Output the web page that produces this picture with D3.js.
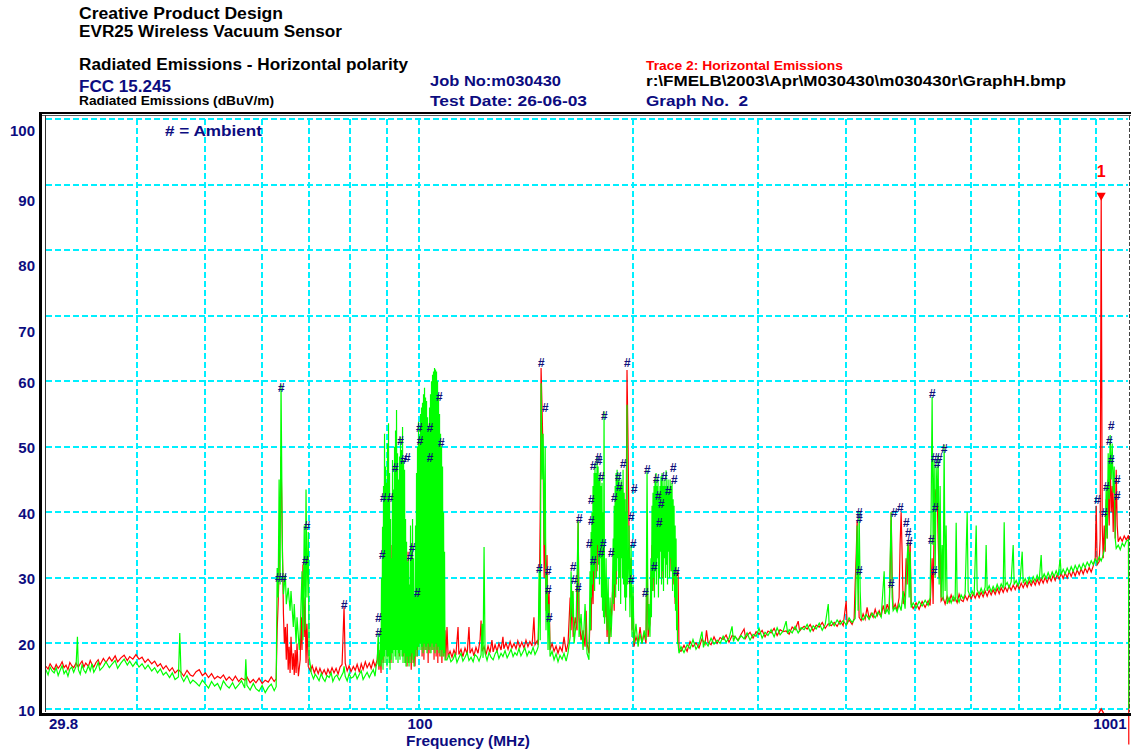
<!DOCTYPE html>
<html>
<head>
<meta charset="utf-8">
<script src="https://cdn.jsdelivr.net/npm/d3@7"></script>
<style>
body { margin: 0; background: #fff; }
svg text { font-family: "Liberation Sans", Arial, sans-serif; font-weight: bold; white-space: pre; }
</style>
</head>
<body>
<svg width="1131" height="754"></svg>
<script>
// levels in dBuV/m, frequencies in MHz
var yTicks = [10, 20, 30, 40, 50, 60, 70, 80, 90, 100];
var xGridMHz = [40, 50, 60, 70, 80, 90, 100, 200, 300, 400, 500, 600, 700, 800, 900];
var xTickLabels = [[29.8, "29.8"], [100, "100"], [1000, "1001"]];

// trace 1 (green)
var greenTrace = [
 [29.8,16.0],[30.0,15.2],[30.2,16.4],[30.4,15.8],[30.6,15.5],[30.8,16.3],[31.0,15.1],[31.2,15.9],[31.4,16.6],[31.6,15.4],
 [31.8,15.9],[32.0,15.0],[32.2,16.1],[32.4,16.4],[32.6,15.6],[32.85,16.5],[33.0,21.0],[33.1,16.0],[33.3,15.3],[33.5,16.7],
 [33.7,15.9],[33.9,15.5],[34.2,16.6],[34.4,15.8],[34.6,16.9],[34.8,15.6],[35.05,16.2],[35.3,17.1],[35.5,15.9],[35.9,16.5],
 [36.2,17.2],[36.6,16.3],[36.9,16.8],[37.3,17.4],[37.6,16.2],[38.0,17.0],[38.4,17.6],[38.8,16.7],[39.1,17.3],[39.5,16.5],
 [39.9,17.2],[40.3,16.4],[40.7,16.9],[41.1,16.1],[41.5,16.7],[42.0,15.8],[42.4,16.3],[42.8,15.5],[43.2,16.1],[43.6,15.2],
 [44.0,15.6],[44.5,14.8],[44.9,15.5],[45.3,14.5],[45.8,14.9],[46.0,21.6],[46.2,15.0],[46.6,14.2],[47.1,15.1],[47.6,13.9],
 [48.0,14.4],[48.5,14.0],[49.0,13.5],[49.5,14.4],[50.0,13.8],[50.5,13.2],[51.0,14.2],[51.5,13.5],[52.0,13.9],[52.5,13.0],
 [53.0,14.3],[53.5,13.6],[54.0,13.2],[54.6,14.0],[55.1,13.1],[55.7,13.7],[56.2,14.3],[56.8,13.2],[57.0,17.6],[57.2,13.6],
 [57.8,12.9],[58.4,13.9],[58.9,13.1],[59.5,12.7],[60.1,13.6],[60.7,12.5],[61.3,13.3],[61.9,13.8],[62.5,12.8],[62.9,13.4],
 [63.1,31.5],[63.3,27.0],[63.5,45.0],[63.7,29.0],[63.9,59.5],[64.2,33.0],[64.4,27.5],[64.8,30.5],[65.0,26.0],[65.4,28.5],
 [65.8,25.0],[66.0,28.0],[66.5,22.5],[66.7,26.0],[67.1,20.0],[67.3,24.0],[67.8,19.0],[68.0,22.0],[68.4,31.0],[68.6,20.5],
 [68.9,38.0],[69.1,22.0],[69.3,43.5],[69.5,27.0],[69.8,37.0],[70.0,18.0],[70.5,15.5],[71.0,14.6],[71.4,15.3],[71.8,14.9],
 [72.3,14.3],[72.8,15.4],[73.2,14.7],[73.7,14.2],[74.2,15.1],[74.7,14.8],[75.2,15.5],[75.6,14.2],[76.1,14.9],[76.6,15.2],
 [77.2,14.4],[77.7,15.0],[78.2,15.6],[78.4,16.5],[78.7,15.0],[79.2,14.3],[79.7,15.4],[80.2,14.7],[80.8,14.9],[81.3,15.5],
 [81.8,14.6],[82.4,15.3],[82.9,15.8],[83.4,14.5],[84.0,15.1],[84.5,15.6],[85.1,14.8],[85.6,15.4],[86.2,16.0],[86.7,15.0],
 [87.0,16.5],[87.3,17.0],[87.6,21.6],[87.8,16.5],
 // FM broadcast band
 [88.11,17.0],[88.25,22.0],[88.40,16.5],[88.54,30.0],[88.68,17.5],[88.83,37.8],[88.97,16.0],[89.12,44.0],[89.26,18.0],[89.41,52.0],
 [89.55,17.0],[89.70,47.0],[89.84,19.0],[89.99,44.5],[90.13,16.5],[90.28,50.5],[90.43,18.0],[90.57,53.6],[90.72,17.0],[90.87,46.0],
 [91.02,16.0],[91.16,39.0],[91.31,17.5],[91.46,33.0],[91.61,18.5],[91.76,48.0],[91.91,17.0],[92.06,43.5],[92.21,19.0],[92.36,50.0],
 [92.51,18.0],[92.66,52.5],[92.81,17.5],[92.96,55.6],[93.11,19.0],[93.26,49.0],[93.41,17.0],[93.56,45.0],[93.72,18.5],[93.87,48.5],
 [94.02,17.5],[94.17,51.5],[94.33,19.0],[94.48,49.5],[94.63,18.0],[94.79,53.0],[94.94,17.0],[95.10,48.0],[95.25,18.5],[95.41,46.5],
 [95.56,17.0],[95.72,39.0],[95.87,16.5],[96.03,35.5],[96.19,18.0],[96.34,32.5],[96.50,17.0],[96.66,33.0],[96.81,16.5],[96.97,29.0],
 [97.12,18.0],[97.28,38.0],[97.44,17.0],[97.60,35.0],[97.76,18.5],[97.92,39.0],[98.07,17.5],[98.23,33.0],[98.39,16.5],[98.55,27.5],
 [98.71,18.0],[98.87,38.0],[99.03,19.0],[99.19,46.0],[99.35,18.0],[99.51,50.0],[99.68,19.5],[99.84,53.8],[100.00,19.0],[100.16,51.5],
 [100.32,20.0],[100.49,55.0],[100.65,19.0],[100.81,56.0],[100.98,19.5],[101.14,56.7],[101.31,18.5],[101.47,58.0],[101.64,20.0],[101.80,59.0],
 [101.97,19.0],[102.13,57.5],[102.30,19.5],[102.47,57.0],[102.63,18.5],[102.80,54.5],[102.97,20.0],[103.13,53.0],[103.30,19.0],[103.47,56.0],
 [103.63,19.5],[103.80,58.0],[103.97,18.5],[104.14,60.0],[104.31,20.0],[104.48,61.0],[104.65,19.0],[104.82,61.5],[104.99,19.5],[105.16,62.0],
 [105.33,18.5],[105.50,61.8],[105.67,20.0],[105.84,61.5],[106.02,19.0],[106.19,60.0],[106.36,19.5],[106.53,58.0],[106.71,18.5],[106.88,55.0],
 [107.05,19.0],[107.23,52.0],[107.40,18.0],[107.58,50.0],[107.75,19.0],[107.93,47.0],[108.10,18.0],[108.28,40.0],[108.45,18.5],[108.63,34.0],
 [108.80,17.5],
 [109.5,17.5],[110.2,18.3],[110.9,17.2],[111.7,17.6],[112.4,18.4],[113.1,17.1],[113.8,17.8],[114.6,18.5],[115.3,17.3],[116.1,17.9],
 [116.9,18.6],[117.6,17.4],[118.4,17.9],[119.2,17.2],[119.9,18.3],[120.7,18.0],[121.5,17.3],[122.3,18.2],[122.7,23.0],[123.1,17.8],
 [123.5,34.7],[123.9,18.5],[124.7,17.4],[125.5,18.6],[126.3,17.9],[127.2,17.5],[128.0,18.4],[128.8,18.9],[129.6,17.7],[130.5,18.5],
 [131.3,18.0],[132.2,18.9],[133.1,17.8],[133.9,18.4],[134.8,19.1],[135.7,18.0],[136.5,18.6],[137.4,18.2],[138.3,19.2],[139.2,18.1],
 [140.1,18.7],[141.0,19.3],[142.0,18.1],[142.9,18.8],[143.8,18.4],[144.8,19.4],[145.7,18.3],[146.7,19.0],
 [147.2,19.5],[147.7,31.5],[148.2,20.5],[148.6,59.7],[149.1,45.0],[149.6,52.0],[150.1,35.0],[150.6,50.0],[151.0,22.0],[151.5,30.5],
 [152.0,19.0],[152.5,26.0],[153.0,18.0],[154.0,18.8],[155.0,17.5],[156.0,18.4],[157.0,17.2],[158.0,18.2],[159.1,17.6],[160.1,18.5],
 [161.2,17.3],[162.2,18.6],[163.3,21.0],[163.8,31.0],[164.4,24.0],[164.9,28.0],[165.4,20.0],[166.5,23.0],[167.6,38.8],[168.1,21.0],
 [169.2,24.5],[170.3,19.0],[171.4,26.0],[172.5,18.5],[173.6,17.5],
 [174.2,31.0],[174.5,22.0],[174.8,37.0],[175.0,27.0],[175.3,40.0],[175.6,29.0],[175.9,44.0],[176.2,31.0],[176.5,46.0],[176.8,28.0],
 [177.0,47.5],[177.3,33.0],[177.6,46.0],[177.9,30.0],[178.2,48.5],[178.5,35.0],[178.8,47.0],[179.1,32.0],[179.4,45.0],[179.6,29.0],
 [179.9,46.0],[180.2,33.0],[180.5,44.0],[180.8,27.0],[181.1,44.5],[181.4,25.0],[181.7,40.0],[182.0,24.0],[182.3,55.4],[182.6,23.0],
 [182.9,25.0],[183.5,33.0],[184.1,22.0],[184.7,30.0],[185.3,20.0],[185.9,27.0],[186.5,21.0],[187.1,25.0],
 [187.8,36.0],[188.1,26.0],[188.4,41.0],[188.7,29.0],[189.0,44.0],[189.3,27.0],[189.6,46.0],[189.9,31.0],[190.2,46.5],[190.5,33.0],
 [190.8,45.0],[191.1,28.0],[191.4,46.0],[191.7,30.0],[192.1,44.0],[192.4,26.0],[192.7,45.0],[193.0,33.0],[193.3,44.0],[193.6,30.0],
 [193.9,46.5],[194.2,29.0],[194.6,43.0],[194.9,27.0],[195.2,42.0],[195.5,25.0],[195.8,40.0],[196.1,27.0],[196.4,56.4],[196.7,29.0],
 [197.1,30.0],[197.7,38.0],[198.3,24.0],[199.0,35.0],[199.6,21.0],[200.3,29.0],[200.9,20.0],
 [202.2,23.0],[203.6,19.5],[204.9,21.5],[206.2,20.0],[207.6,22.0],[208.9,20.5],[209.6,46.4],[210.3,22.0],[210.9,26.0],[211.6,21.0],
 [212.3,33.0],[212.6,24.0],[213.0,41.0],[213.3,28.0],[213.7,43.0],[214.0,30.0],[214.4,44.0],[214.7,27.0],[215.1,45.0],[215.4,31.0],
 [215.8,46.0],[216.1,29.0],[216.5,44.0],[216.8,33.0],[217.2,45.0],[217.5,27.0],[217.9,43.0],[218.2,30.0],[218.6,44.0],[218.9,34.0],
 [219.3,45.5],[219.7,29.0],[220.1,46.0],[220.4,31.0],[220.8,44.0],[221.1,28.0],[221.5,45.0],[221.8,33.0],[222.2,44.0],[222.6,30.0],
 [223.0,46.4],[223.3,32.0],[223.7,44.0],[224.0,29.0],[224.4,45.0],[224.8,34.0],[225.1,43.0],[225.5,30.0],[225.9,45.0],[226.2,33.0],
 [226.6,44.0],[226.9,31.0],[227.3,44.5],[227.7,28.0],[228.1,42.0],[228.4,30.0],[228.8,41.0],[229.2,27.0],[229.6,38.0],[229.9,25.0],
 [230.3,36.0],[230.7,22.0],[231.0,30.0],[231.4,20.0],[231.8,20.0],[232.5,18.5],[234.0,19.5],
 [236.3,18.6],[238.7,19.8],[241.0,19.2],[243.3,20.6],[245.7,19.1],[248.1,19.9],[250.5,21.8],[251.7,19.4],[253.0,20.3],[255.5,19.6],
 [258.0,20.8],[260.5,19.9],[263.1,20.5],[265.7,20.0],[268.3,21.1],[270.9,20.2],[273.5,20.8],[276.2,22.6],[277.5,20.3],[278.9,21.1],
 [281.6,20.4],[284.4,21.2],[287.2,20.7],[290.0,21.6],[292.8,20.5],[295.7,21.4],[298.6,21.1],[301.5,22.3],[304.5,20.8],[307.4,21.7],
 [310.4,21.2],[313.5,22.1],[316.6,21.0],[319.7,22.4],[322.8,21.3],[326.0,21.9],[329.2,23.4],[330.8,21.5],[332.4,22.1],[335.7,21.6],
 [338.9,22.6],[342.3,21.6],[345.6,22.4],[349.0,22.1],[352.4,22.9],[355.9,21.8],[359.4,22.7],[362.9,22.2],[366.5,23.1],[370.1,22.0],
 [373.7,22.9],[377.4,26.0],[378.6,22.6],
 [381.1,23.4],[384.8,22.7],[388.4,23.6],[392.2,22.9],[396.1,23.5],[400.0,22.8],[403.8,23.9],[407.8,23.2],[411.8,23.8],[413.1,30.0],
 [414.5,38.0],[415.8,25.0],[417.2,40.0],[418.6,28.0],[419.9,24.0],[422.6,23.6],[426.8,24.4],[431.0,23.7],[435.2,24.6],[439.5,23.9],
 [443.8,24.8],[448.1,24.0],[452.5,31.0],[454.0,24.5],[456.9,25.2],[459.9,24.4],[461.4,33.0],[462.9,40.0],[464.4,27.0],[465.9,25.0],
 [469.0,25.5],[471.9,24.8],[475.0,26.0],[478.1,25.0],[481.2,28.0],[484.3,25.3],[487.5,33.0],[489.1,35.5],[490.7,27.0],[492.3,34.0],
 [493.9,25.5],[497.2,26.2],[501.9,25.4],[506.8,26.4],[511.8,25.7],[516.8,26.6],[521.9,25.8],[525.3,27.0],[527.0,40.0],[528.7,57.6],
 [530.4,35.0],[532.1,48.0],[533.9,30.0],[535.6,47.0],[537.4,41.0],[539.1,48.8],[540.9,29.0],[542.6,44.0],[544.4,27.0],[546.2,35.0],
 [547.9,26.5],[549.7,50.3],[551.5,28.0],[553.3,38.0],[555.1,26.0],[558.7,27.0],[562.4,26.2],[566.0,27.2],[569.7,26.4],[571.6,38.4],
 [573.4,27.0],[577.1,26.3],[580.9,27.4],[584.7,26.8],[588.5,27.6],[592.4,40.0],[594.3,28.0],[598.2,27.2],[602.1,28.0],[606.0,27.3],
 [610.0,38.0],[611.9,28.2],[615.9,27.5],[619.9,28.4],[623.9,27.6],[628.0,28.6],[630.0,35.0],[632.1,28.0],[636.2,28.8],[640.4,27.9],
 [644.5,28.7],[648.8,28.0],[653.0,29.0],[657.3,28.2],[661.5,29.1],[665.9,28.4],[668.0,38.5],[670.2,28.8],[674.5,29.3],[678.9,28.5],
 [683.3,29.4],[687.8,35.0],[690.0,29.0],[694.5,29.6],[699.1,28.8],[703.6,29.7],[708.2,34.0],[710.5,29.2],[715.2,29.9],[719.8,29.1],
 [724.5,30.1],[729.2,29.3],[734.0,30.2],[738.8,29.5],[743.5,30.4],[748.4,29.6],[753.2,33.5],[755.7,29.8],[760.6,30.6],[765.5,29.9],
 [770.5,30.8],[775.5,30.0],[780.6,30.9],[785.6,30.2],[790.8,31.1],[796.0,30.3],[801.1,33.0],[803.7,30.5],[809.0,31.3],[814.3,30.6],
 [819.6,31.5],[824.9,30.8],[830.3,31.7],[835.7,31.0],[841.1,31.9],[846.6,31.2],[852.1,32.0],[857.7,31.3],[863.3,32.2],[868.9,31.6],
 [874.6,32.4],[880.3,31.8],[886.0,32.6],[891.8,32.0],[897.6,32.9],[903.4,32.3],[909.3,33.2],[915.2,32.6],[921.2,33.5],[927.2,35.0],
 [930.2,44.0],[933.2,36.0],[936.2,49.0],[939.3,42.0],[942.3,51.8],[945.4,45.0],[948.5,50.5],[951.6,43.0],[954.7,47.0],[957.8,36.0],
 [960.9,34.5],[967.2,35.0],[973.5,34.3],[979.9,35.3],[986.2,34.8],[992.7,35.6],[1000,35.8],[1001,10.0]
];

// trace 2 (red) - horizontal emissions
var redTrace = [
 [29.8,16.5],[30.0,16.1],[30.2,16.9],[30.4,16.4],[30.6,16.0],[30.8,16.8],[31.0,16.2],[31.2,16.6],[31.4,17.2],[31.6,16.3],
 [31.8,16.7],[32.0,16.0],[32.2,17.1],[32.4,16.6],[32.6,16.3],[32.85,17.0],[33.1,16.4],[33.3,16.9],[33.5,17.3],[33.7,16.4],
 [33.9,17.0],[34.2,16.5],[34.4,17.4],[34.6,16.8],[34.8,16.4],[35.05,17.1],[35.3,17.5],[35.5,16.7],[35.9,17.7],[36.2,17.1],
 [36.6,17.9],[36.9,17.3],[37.3,18.1],[37.6,17.2],[38.0,17.8],[38.4,18.2],[38.8,17.4],[39.1,18.0],[39.5,17.6],[39.9,18.3],
 [40.3,17.6],[40.7,17.9],[41.1,17.1],[41.5,17.6],[42.0,16.9],[42.4,17.3],[42.8,16.5],[43.2,16.9],[43.6,16.1],[44.0,16.6],
 [44.5,15.8],[44.9,16.3],[45.3,15.5],[45.8,16.0],[46.2,15.6],[46.6,15.0],[47.1,15.9],[47.6,15.2],[48.0,15.0],[48.5,15.7],
 [49.0,16.0],[49.5,15.1],[50.0,15.5],[50.5,14.8],[51.0,15.4],[51.5,14.6],[52.0,15.0],[52.5,14.7],[53.0,15.2],[53.5,14.4],
 [54.0,14.9],[54.6,14.3],[55.1,15.0],[55.7,14.2],[56.2,14.7],[56.8,14.4],[57.2,14.9],[57.8,14.0],[58.4,14.5],[58.9,14.0],
 [59.5,14.7],[60.1,13.9],[60.7,14.4],[61.3,14.1],[61.9,14.9],[62.5,14.2],[62.9,14.6],[63.1,22.0],[63.3,26.0],[63.5,31.0],
 [63.7,40.0],[63.9,48.5],[64.2,34.0],[64.4,24.5],[64.6,20.0],[64.8,22.5],[65.0,17.5],[65.2,23.0],[65.4,16.0],[65.6,19.5],
 [65.8,15.5],[66.0,21.0],[66.3,16.0],[66.5,18.5],[66.7,15.2],[66.9,19.0],[67.1,15.5],[67.3,20.0],[67.6,15.0],[68.0,17.5],
 [68.2,24.0],[68.4,19.0],[68.6,32.0],[68.9,21.0],[69.1,27.0],[69.3,17.0],[69.5,23.0],[69.8,16.5],[70.3,15.8],[70.7,16.6],
 [71.2,15.5],[71.6,16.3],[72.1,15.4],[72.5,16.2],[73.0,15.3],[73.5,16.0],[74.0,15.2],[74.4,16.1],[74.9,15.4],[75.4,16.3],
 [75.9,15.5],[76.4,16.2],[76.9,15.3],[77.4,16.4],[77.9,16.8],[78.2,22.0],[78.4,25.6],[78.7,17.0],[79.2,15.8],[79.7,16.6],
 [80.2,15.7],[80.8,16.5],[81.3,15.9],[81.8,16.8],[82.4,15.6],[82.9,16.9],[83.4,16.0],[84.0,17.2],[84.5,16.3],[85.1,17.0],
 [85.6,16.2],[86.2,17.4],[86.7,16.5],[87.3,17.5],[87.6,20.0],[87.8,16.0],[88.1,19.0],[88.4,15.5],[88.7,24.0],[89.0,17.0],
 [89.3,30.0],[89.6,19.0],[89.9,36.0],[90.2,18.0],[90.5,38.0],[90.8,21.0],[91.0,30.0],[91.3,17.0],[91.6,35.0],[91.9,20.0],
 [92.2,33.0],[92.5,22.0],[92.8,40.0],[93.1,19.0],[93.4,35.0],[93.8,18.0],[94.1,38.0],[94.4,21.0],[94.7,36.0],[95.0,18.0],
 [95.3,30.0],[95.6,17.0],[95.9,24.0],[96.2,16.5],[96.5,34.0],[96.8,17.0],[97.1,27.0],[97.5,16.0],[97.8,25.0],[98.1,17.0],
 [98.4,20.0],[98.7,16.5],[99.1,29.0],[99.4,18.0],[100.0,40.0],[100.3,20.0],[100.7,51.5],[101.0,18.0],[101.3,42.0],[101.6,17.5],
 [102.0,45.0],[102.3,19.0],[102.6,40.0],[103.0,17.0],[103.3,44.0],[103.6,18.5],[104.0,42.0],[104.3,19.0],[104.6,46.0],[105.0,17.5],
 [105.3,44.0],[105.7,18.0],[106.0,41.0],[106.3,17.0],[106.7,39.0],[107.0,18.0],[107.4,35.0],[107.7,17.0],[108.1,28.0],[108.4,18.0],
 [108.8,22.0],[109.1,17.5],[109.5,22.5],[109.9,18.0],[110.6,18.8],[111.3,17.9],[112.0,19.0],[112.7,18.2],[113.5,22.5],[113.8,18.3],
 [114.6,19.1],[115.3,18.0],[116.1,19.3],[116.9,18.4],[117.6,22.5],[118.0,18.5],[118.8,19.2],[119.5,18.1],[120.3,19.4],[121.1,18.5],
 [121.9,20.5],[122.3,23.5],[122.7,18.8],[123.5,19.5],[124.3,18.3],[125.1,19.6],[125.9,18.6],[126.7,20.5],[127.2,18.7],[128.0,19.8],
 [128.8,18.8],[129.6,20.0],[130.5,19.0],[131.3,21.0],[131.7,19.2],[132.6,20.1],[133.5,19.1],[134.4,20.3],[135.2,19.3],[136.1,20.0],
 [137.0,19.2],[137.8,20.4],[138.7,19.4],[139.6,20.2],[140.6,19.3],[141.5,20.5],[142.4,19.5],[143.3,20.3],[144.3,19.6],[145.2,24.0],
 [145.7,19.8],[146.7,20.4],[147.2,19.8],[147.7,26.0],[148.2,40.0],[148.6,62.0],[149.1,55.6],[149.6,48.0],[150.1,30.0],[150.6,40.0],
 [151.0,25.0],[151.5,33.5],[152.0,23.0],[152.5,28.0],[153.0,19.0],[154.0,20.0],[155.0,18.8],[156.0,19.6],[157.0,18.5],[158.0,19.5],
 [159.1,18.8],[160.1,21.0],[161.2,18.7],[162.2,20.0],[163.3,27.0],[163.8,22.0],[164.4,28.0],[164.9,21.0],[166.0,24.0],[167.0,22.0],
 [167.6,38.5],[168.1,24.0],[169.2,20.5],[170.3,22.0],[171.4,19.5],[172.0,25.0],[172.5,20.0],[173.6,18.5],[174.2,24.0],[174.8,22.0],
 [175.3,32.0],[175.9,26.0],[176.5,38.0],[177.0,30.0],[177.6,42.0],[178.2,31.0],[178.8,40.0],[179.4,36.0],[179.9,41.0],[180.5,33.0],
 [181.1,39.0],[181.7,26.0],[182.3,30.0],[182.9,24.0],[183.5,28.0],[184.1,21.0],[184.7,26.0],[185.3,20.0],[186.5,23.0],[187.8,30.0],
 [188.4,25.0],[189.0,38.0],[189.6,29.0],[190.2,42.0],[190.8,35.0],[191.4,44.0],[192.1,37.0],[192.7,43.0],[193.3,40.0],[193.9,42.0],
 [194.6,33.0],[195.2,40.0],[195.8,35.0],[196.4,61.7],[197.1,50.0],[197.7,36.0],[198.3,27.0],[199.0,33.0],[199.6,22.0],[200.3,27.0],
 [200.9,19.5],[202.2,21.0],[203.6,20.0],[204.9,22.5],[206.2,20.0],[207.6,21.5],[208.9,20.0],[209.6,34.0],[210.3,21.0],[211.6,23.0],
 [212.3,30.0],[213.0,35.0],[213.7,28.0],[214.4,38.0],[215.1,31.0],[215.8,40.0],[216.5,34.0],[217.2,37.0],[217.9,30.0],[218.6,41.0],
 [219.3,35.0],[220.1,38.0],[220.8,30.0],[221.5,42.0],[222.2,36.0],[223.0,39.0],[223.7,33.0],[224.4,40.0],[225.1,35.0],[225.9,37.0],
 [226.6,31.0],[227.3,36.0],[228.1,29.0],[228.8,34.0],[229.6,26.0],[230.3,31.0],[231.0,30.5],[231.8,31.0],[232.5,19.0],[234.0,18.8],
 [236.3,19.7],[238.7,18.8],[241.0,20.3],[243.3,19.5],[245.7,20.1],[248.1,19.3],[250.5,20.7],[253.0,19.9],[254.2,22.0],[255.5,20.2],
 [258.0,19.8],[260.5,21.0],[263.1,20.0],[265.7,20.9],[268.3,20.6],[270.9,21.3],[273.5,20.2],[276.2,21.2],[278.9,21.0],[281.6,20.5],
 [284.4,21.4],[287.2,22.2],[288.6,20.8],[290.0,21.2],[292.8,21.7],[295.7,20.8],[298.6,21.8],[301.5,21.4],[304.5,22.0],[307.4,21.0],
 [310.4,21.9],[313.5,21.6],[316.6,22.3],[319.7,21.2],[322.8,22.1],[326.0,21.8],[329.2,21.9],[332.4,21.4],[335.7,22.5],[338.9,22.1],
 [342.3,23.4],[343.9,21.9],[345.6,22.2],[349.0,22.6],[352.4,22.2],[355.9,22.9],[359.4,21.9],[362.9,22.8],[366.5,22.5],[370.1,23.2],
 [373.7,22.3],[377.4,23.0],[381.1,22.7],
 [384.8,23.2],[388.4,22.6],[392.2,23.5],[396.1,22.7],[400.0,26.5],[401.2,23.0],[403.8,23.6],[407.8,22.9],[410.5,23.8],[411.8,29.0],
 [413.1,33.0],[414.5,38.8],[415.8,30.0],[417.2,24.0],[419.9,23.5],[422.6,24.5],[425.4,23.7],[428.1,25.5],[431.0,23.8],[433.8,24.6],
 [436.6,24.0],[439.5,25.2],[442.3,24.2],[445.2,25.0],[448.1,24.1],[451.0,25.8],[454.0,24.5],[456.9,26.0],[459.9,25.0],[461.4,31.0],
 [462.9,40.0],[464.4,30.0],[465.9,25.2],[469.0,26.0],[471.9,25.0],[475.0,27.0],[476.5,35.0],[478.1,40.0],[479.6,34.0],[481.2,26.0],
 [484.3,28.0],[485.9,33.0],[487.5,29.0],[489.1,35.0],[490.7,31.0],[492.3,35.5],[493.9,26.0],[497.2,25.3],[501.9,26.2],[506.8,25.2],
 [511.8,26.4],[516.8,25.5],[521.9,26.5],[525.3,25.8],[528.7,33.0],[530.4,26.0],[532.1,38.0],[533.9,43.5],[535.6,41.0],[537.4,43.0],
 [539.1,36.0],[540.9,30.0],[542.6,38.0],[544.4,26.5],[547.9,27.0],[551.5,26.0],[555.1,27.2],[558.7,26.3],[562.4,27.4],[566.0,26.5],
 [569.7,27.0],[573.4,26.2],[577.1,27.5],[580.9,26.6],[584.7,26.4],[588.5,27.3],[592.4,26.6],[596.3,27.4],[600.2,26.8],[604.1,27.6],
 [608.0,26.9],[611.9,27.7],[615.9,27.0],[619.9,27.8],[623.9,27.1],[628.0,28.0],[632.1,27.2],[636.2,28.1],[640.4,27.4],[644.5,28.2],
 [648.8,27.5],[653.0,28.4],[657.3,27.6],[661.5,28.5],[665.9,27.8],[670.2,28.6],[674.5,27.9],[678.9,28.8],[683.3,28.1],[687.8,28.9],
 [692.3,28.2],[696.8,29.0],[701.3,28.3],[705.9,29.2],[710.5,28.5],[715.2,29.3],[719.8,28.6],[724.5,29.5],[729.2,28.8],[734.0,29.6],
 [738.8,28.9],[743.5,29.8],[748.4,29.0],[753.2,29.9],[758.1,29.2],[763.0,30.1],[768.0,29.3],[773.0,30.2],[778.0,29.5],[783.1,30.4],
 [788.2,29.6],[793.4,30.5],[798.5,29.8],[803.7,30.7],[809.0,29.9],[814.3,30.8],[819.6,30.0],[824.9,31.0],[830.3,30.2],[835.7,31.1],
 [841.1,30.3],[846.6,31.2],[852.1,30.5],[857.7,31.4],[863.3,30.6],[868.9,31.5],[874.6,30.8],[880.3,31.6],[886.0,30.9],[891.8,31.8],
 [897.6,33.0],[900.5,41.0],[903.4,32.0],[909.3,32.5],[912.2,36.0],[915.2,88.3],[918.2,38.0],[921.2,33.0],[924.2,38.0],[927.2,34.0],
 [930.2,42.0],[933.2,36.0],[936.2,45.0],[939.3,38.0],[942.3,48.0],[945.4,40.0],[948.5,44.0],[951.6,37.0],[954.7,45.0],[957.8,36.0],
 [960.9,46.5],[964.0,38.0],[967.2,35.5],[973.5,36.2],[979.9,35.6],[986.2,36.4],[992.7,35.8],[1000,36.5],[1001,4.6]
];

// "#" ambient flags
var ambientMarks = [
 [63.3,30],[64.4,30],[63.9,59.1],[69.1,32.7],[69.5,38],[78.4,25.9],[87.6,24],[87.6,21.7],[88.7,33.5],[89.0,42.3],
 [91.0,42.3],[92.5,46.9],[94.1,51],[95.0,48],[96.2,48.4],[97.1,33.2],[97.8,34.7],[99.4,27.7],[100,53],[100.3,51],
 [103.6,53],[103.6,48.4],[106.7,57.6],[107.4,50.7],
 [147.7,31.5],[148.6,62.8],[150.6,56],[152.0,31.2],[152.0,28.2],[152.5,24],[164.9,31.7],[165.4,29.7],[167.6,28.6],[168.1,39],
 [173.6,35.3],[174.8,41.9],[174.8,38.8],[175.9,47.2],[175.9,32.7],[178.8,48.4],[179.4,47.9],[180.5,45.4],[180.5,33.8],[181.7,35.3],
 [182.3,54.8],[186.5,33.8],[188.4,42.3],[190.8,45.4],[191.4,43.9],[193.9,47.5],[196.4,62.8],[199.0,39.3],[199.0,29.7],[200.3,35.3],
 [200.9,43.7],[208.2,27.7],[209.6,46.5],[214.4,31.7],[215.8,45.2],[217.2,42.6],[217.9,38.4],[219.3,41.4],[221.5,45.4],[224.4,43.4],
 [228.1,46.8],[228.8,45],[230.3,30.9],
 [417.2,40],[417.2,39],[417.2,31.2],[462.9,29.2],[467.4,39.9],[476.5,40.8],[485.9,38.5],[489.1,37],[490.7,35.5],[527.0,35.8],
 [528.7,58.2],[532.1,48.3],[532.1,31.2],[533.9,40.8],[537.4,47.5],[540.9,48.3],[549.7,49.8],
 [903.4,41.9],[924.2,39.9],[930.2,44],[939.3,51],[945.4,53.3],[945.4,48],[964.0,45],[964.0,42.6]
];

var markerMHz = 915.2, markerDb = 88.3, markerLabel = "1";

var svg = d3.select("svg");
var navy = "#0c0c80";

var x = d3.scaleLog().domain([29.8, 1000]).range([46, 1128.5]);
var y = d3.scaleLinear().domain([10, 100]).range([709, 119]);

// header texts
var header = [
  ["Creative Product Design", 79, 19, 16, "#000", 204],
  ["EVR25 Wireless Vacuum Sensor", 79, 37, 16, "#000", 263],
  ["Radiated Emissions - Horizontal polarity", 79, 70, 16, "#000", 329],
  ["FCC 15.245", 79, 92, 16, navy, 92],
  ["Radiated Emissions (dBuV/m)", 79, 105, 12.5, "#000", 195],
  ["Job No:m030430", 430, 86, 15, navy, 131],
  ["Test Date: 26-06-03", 430, 106, 15, navy, 157],
  ["Trace 2: Horizontal Emissions", 646, 70, 12.5, "#ff0000", 197],
  ["r:\\FMELB\\2003\\Apr\\M030430\\m030430r\\GraphH.bmp", 646, 86, 15, "#000", 420],
  ["Graph No.  2", 646, 106, 15, navy, 102]
];
svg.selectAll(".hdr").data(header).enter().append("text")
  .attr("class", "hdr")
  .attr("x", function(d) { return d[1]; })
  .attr("y", function(d) { return d[2]; })
  .attr("textLength", function(d) { return d[5]; })
  .attr("lengthAdjust", "spacingAndGlyphs")
  .style("font-size", function(d) { return d[3] + "px"; })
  .style("fill", function(d) { return d[4]; })
  .text(function(d) { return d[0]; });

// grid
var grid = svg.append("g")
  .attr("stroke", "#00f0ff")
  .attr("stroke-width", 2)
  .attr("stroke-dasharray", "6,3")
  .attr("shape-rendering", "crispEdges");

grid.selectAll(".h").data(yTicks).enter().append("line")
  .attr("x1", 46).attr("x2", 1128)
  .attr("y1", function(d) { return Math.round(y(d)); })
  .attr("y2", function(d) { return Math.round(y(d)); });

grid.selectAll(".v").data(xGridMHz).enter().append("line")
  .attr("x1", function(d) { return Math.round(x(d)); })
  .attr("x2", function(d) { return Math.round(x(d)); })
  .attr("y1", 119).attr("y2", 709);

// traces
var line = d3.line()
  .x(function(d) { return x(d[0]); })
  .y(function(d) { return y(d[1]); });

svg.append("path").datum(redTrace)
  .attr("d", line)
  .attr("fill", "none")
  .attr("stroke", "#ff0000")
  .attr("stroke-width", 1.2);

svg.append("path").datum(greenTrace)
  .attr("d", line)
  .attr("fill", "none")
  .attr("stroke", "#00ff00")
  .attr("stroke-width", 1.2);

// ambient flags
svg.selectAll(".amb").data(ambientMarks).enter().append("text")
  .attr("class", "amb")
  .attr("x", function(d) { return x(d[0]); })
  .attr("y", function(d) { return y(d[1]) + 4.5; })
  .attr("text-anchor", "middle")
  .style("font-size", "12px")
  .style("font-style", "italic")
  .style("fill", "#10107a")
  .text("#");

// marker 1
var mx = x(markerMHz), my = y(markerDb);
svg.append("path")
  .attr("d", "M" + (mx - 4.5) + "," + (my - 3) + "L" + (mx + 4.5) + "," + (my - 3) + "L" + mx + "," + (my + 5) + "Z")
  .attr("fill", "#ff0000");
svg.append("text")
  .attr("x", mx).attr("y", my - 19)
  .attr("text-anchor", "middle")
  .style("font-size", "16px")
  .style("fill", "#ff0000")
  .text(markerLabel);
svg.append("path")
  .attr("d", "M" + (mx - 4) + ",716L" + mx + ",709L" + (mx + 4) + ",716")
  .attr("fill", "none")
  .attr("stroke", "#ff0000")
  .attr("stroke-width", 1.5);

// frame
var frame = svg.append("g").attr("shape-rendering", "crispEdges");
frame.append("line").attr("x1", 39).attr("x2", 1131).attr("y1", 112.5).attr("y2", 112.5)
  .attr("stroke", "#000").attr("stroke-width", 2);
frame.append("line").attr("x1", 42).attr("x2", 1131).attr("y1", 115.5).attr("y2", 115.5)
  .attr("stroke", "#555").attr("stroke-width", 1);
frame.append("line").attr("x1", 40.5).attr("x2", 40.5).attr("y1", 112).attr("y2", 716)
  .attr("stroke", "#000").attr("stroke-width", 3);
frame.append("line").attr("x1", 45.5).attr("x2", 45.5).attr("y1", 115).attr("y2", 712)
  .attr("stroke", "#333").attr("stroke-width", 1);
frame.append("line").attr("x1", 39).attr("x2", 1131).attr("y1", 714.5).attr("y2", 714.5)
  .attr("stroke", "#000").attr("stroke-width", 3);
frame.append("line").attr("x1", 1129.5).attr("x2", 1129.5).attr("y1", 116).attr("y2", 712)
  .attr("stroke", "#444").attr("stroke-width", 1).attr("stroke-dasharray", "4,2");

// y labels
svg.selectAll(".yl").data(yTicks).enter().append("text")
  .attr("x", 35)
  .attr("y", function(d) { return y(d) + 5.5 + (d === 100 ? 11 : d >= 70 ? 15.5 : 1); })
  .attr("text-anchor", "end")
  .style("font-size", "15px")
  .style("fill", navy)
  .text(function(d) { return d; });

// x labels
svg.selectAll(".xl").data(xTickLabels).enter().append("text")
  .attr("x", function(d, i) { return i === 0 ? x(d[0]) + 3 : i === 1 ? x(d[0]) + 1 : x(d[0]) - 2; })
  .attr("y", 729)
  .attr("text-anchor", function(d, i) { return i === 0 ? "start" : i === 1 ? "middle" : "end"; })
  .style("font-size", "15px")
  .style("fill", navy)
  .text(function(d) { return d[1]; });

svg.append("text")
  .attr("x", 406).attr("y", 746)
  .attr("textLength", 124).attr("lengthAdjust", "spacingAndGlyphs")
  .style("font-size", "15px")
  .style("fill", navy)
  .text("Frequency (MHz)");

svg.append("text")
  .attr("x", 165).attr("y", 136)
  .attr("textLength", 97).attr("lengthAdjust", "spacingAndGlyphs")
  .style("font-size", "15px")
  .style("fill", navy)
  .text("# = Ambient");
</script>
</body>
</html>
